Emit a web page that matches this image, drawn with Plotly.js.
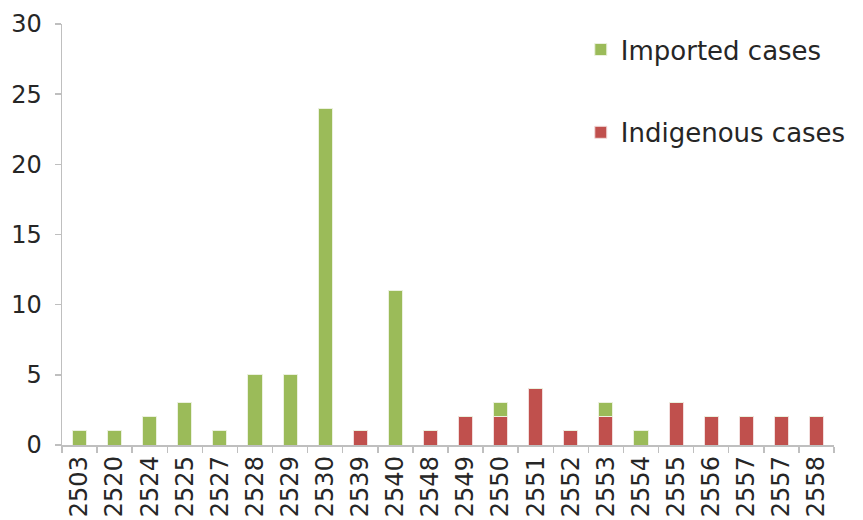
<!DOCTYPE html>
<html>
<head>
<meta charset="utf-8">
<script src="https://cdn.plot.ly/plotly-3.0.1.min.js"></script>
<style>
  html, body { margin: 0; padding: 0; background: #ffffff; }
  #chart { width: 863px; height: 520px; }
</style>
</head>
<body>
<div id="chart"></div>
<script>
// Year labels (Buddhist era); 2557 appears twice in the series
const years = ["2503", "2520", "2524", "2525", "2527", "2528", "2529", "2530", "2539", "2540", "2548",
               "2549", "2550", "2551", "2552", "2553", "2554", "2555", "2556", "2557", "2557", "2558"];
const importedCases   = [1, 1, 2, 3, 1, 5, 5, 24, 0, 11, 0, 0, 1, 0, 0, 1, 1, 0, 0, 0, 0, 0];
const indigenousCases = [0, 0, 0, 0, 0, 0, 0, 0, 1, 0, 1, 2, 2, 4, 1, 2, 0, 3, 2, 2, 2, 2];

const positions = years.map((_, i) => i);

const fontFamily = "DejaVu Sans, sans-serif";
const textColor = "#262626";
const axisColor = "#bfbfbf";

const traces = [
  {
    type: "bar",
    name: "Indigenous cases",
    legendgroup: "indigenous",
    legendrank: 2,
    x: positions,
    y: indigenousCases,
    marker: { color: "#C0504D", line: { color: "#f2dcdb", width: 1 } },
    hoverinfo: "y+name"
  },
  {
    type: "bar",
    name: "Imported cases",
    legendgroup: "imported",
    legendrank: 1,
    x: positions,
    y: importedCases,
    marker: { color: "#9BBB59", line: { color: "#ebf1de", width: 1 } },
    hoverinfo: "y+name"
  }
];

const layout = {
  width: 863,
  height: 520,
  margin: { l: 62, r: 29, t: 24, b: 75 },
  paper_bgcolor: "#ffffff",
  plot_bgcolor: "#ffffff",
  barmode: "stack",
  bargap: 0.6,
  font: { family: fontFamily, size: 24, color: textColor },
  xaxis: {
    type: "linear",
    range: [-0.5, years.length - 0.5],
    tickmode: "array",
    tickvals: positions,
    ticktext: years,
    tickangle: -90,
    ticks: "",
    showgrid: false,
    zeroline: false,
    showline: true,
    linecolor: axisColor,
    linewidth: 1.5,
    tickfont: { family: fontFamily, size: 24, color: textColor },
    minor: {
      tickmode: "linear",
      tick0: -0.5,
      dtick: 1,
      ticks: "outside",
      ticklen: 6,
      tickcolor: axisColor,
      tickwidth: 1.5,
      showgrid: false
    },
    fixedrange: true
  },
  yaxis: {
    range: [0, 30],
    tickmode: "linear",
    tick0: 0,
    dtick: 5,
    ticks: "outside",
    ticklen: 6,
    tickcolor: axisColor,
    tickwidth: 1.5,
    ticklabelstandoff: 8,
    showgrid: false,
    zeroline: false,
    showline: true,
    linecolor: axisColor,
    linewidth: 1.5,
    tickfont: { family: fontFamily, size: 24, color: textColor },
    fixedrange: true
  },
  showlegend: true,
  legend: {
    x: 0.672,
    xanchor: "left",
    y: 0.995,
    yanchor: "top",
    traceorder: "grouped",
    tracegroupgap: 46,
    bgcolor: "rgba(0,0,0,0)",
    borderwidth: 0,
    font: { family: fontFamily, size: 26, color: textColor },
    itemwidth: 30
  }
};

Plotly.newPlot("chart", traces, layout, { displayModeBar: false, staticPlot: true });
</script>
</body>
</html>
